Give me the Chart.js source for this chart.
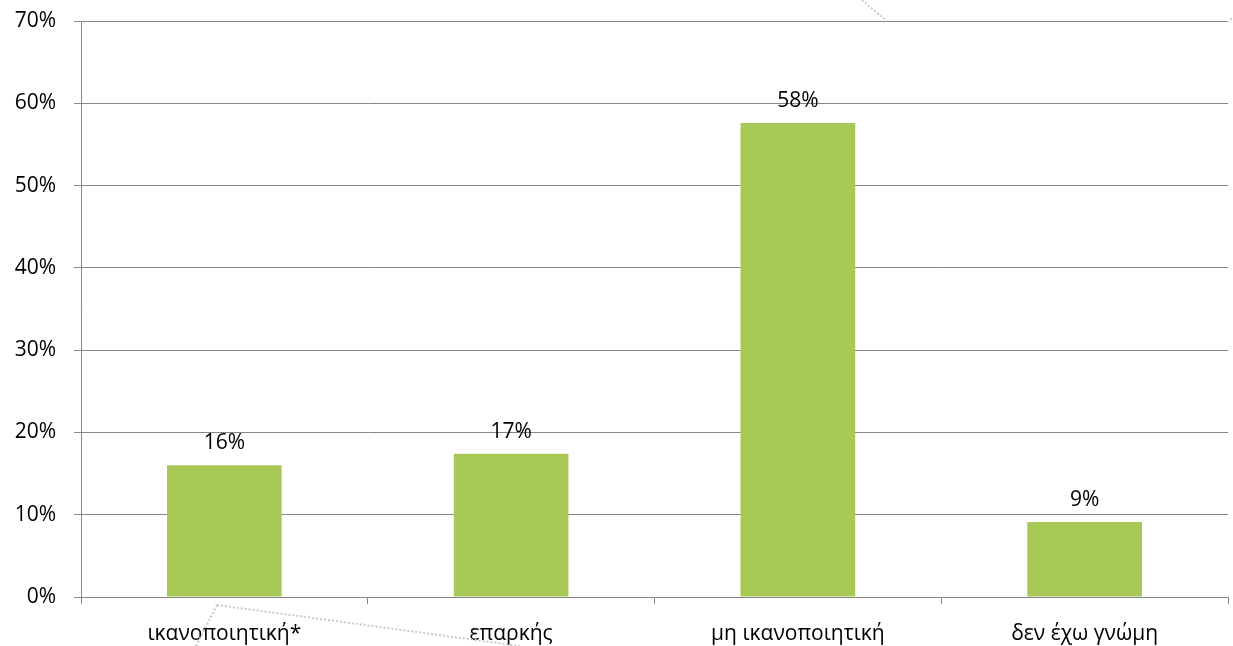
<!DOCTYPE html>
<html><head><meta charset="utf-8">
<script src="https://cdn.jsdelivr.net/npm/chart.js@4/dist/chart.umd.min.js"></script>
<style>html,body{margin:0;padding:0;background:#fff;}#wrap{width:1233px;height:646px;}</style>
</head><body><div id="wrap"><canvas id="c" width="1233" height="646"></canvas></div>
<script>
const categories = ["ικανοποιητική*", "επαρκής", "μη ικανοποιητική", "δεν έχω γνώμη"];
const values = [16.0, 17.4, 57.6, 9.1];
const valueLabels = ["16%", "17%", "58%", "9%"];
const yTicks = [0, 10, 20, 30, 40, 50, 60, 70];

const FONT = "'Open Sans', 'Noto Sans', sans-serif";
const GRID = '#868686';

const labelPlugin = {
  id: 'valueLabels',
  afterDatasetsDraw(chart) {
    const ctx = chart.ctx;
    const meta = chart.getDatasetMeta(0);
    ctx.save();
    ctx.font = '21px ' + FONT;
    ctx.fillStyle = '#000';
    ctx.textAlign = 'center';
    ctx.textBaseline = 'middle';
    meta.data.forEach((bar, i) => {
      ctx.fillText(valueLabels[i], bar.x, bar.y - 22);
    });
    ctx.restore();
  }
};

// faint dotted leader-line artifacts visible in the original image
const artifactPlugin = {
  id: 'artifacts',
  afterDraw(chart) {
    const ctx = chart.ctx;
    ctx.save();
    ctx.strokeStyle = '#c8c8c8';
    ctx.lineWidth = 2;
    ctx.setLineDash([2, 2]);
    const segs = [
      [[862, 0], [887, 21]],
      [[1227, 22], [1233, 17]],
      [[217, 605], [196, 646]],
      [[217, 605], [520, 646]]
    ];
    segs.forEach(s => {
      ctx.beginPath();
      ctx.moveTo(s[0][0], s[0][1]);
      ctx.lineTo(s[1][0], s[1][1]);
      ctx.stroke();
    });
    ctx.restore();
  }
};

new Chart(document.getElementById('c'), {
  type: 'bar',
  data: {
    labels: categories,
    datasets: [{
      data: values,
      backgroundColor: '#A9C957',
      borderWidth: 0,
      categoryPercentage: 1.0,
      barPercentage: 0.4
    }]
  },
  options: {
    responsive: false,
    animation: false,
    devicePixelRatio: 1,
    layout: { padding: { top: 21, right: 5, left: 0, bottom: 0 } },
    plugins: { legend: { display: false }, tooltip: { enabled: false } },
    scales: {
      x: {
        grid: { display: true, drawOnChartArea: false, offset: true, color: GRID, tickLength: 7, lineWidth: 1 },
        border: { display: true, color: GRID, width: 1 },
        ticks: { color: '#000', font: { family: FONT, size: 21 }, padding: 17, maxRotation: 0 },
        afterFit(s) { s.height = 49; s.paddingLeft = 0; s.paddingRight = 0; }
      },
      y: {
        min: 0, max: 70,
        afterBuildTicks(s) { s.ticks = yTicks.map(v => ({ value: v })); },
        grid: { color: GRID, tickLength: 7, lineWidth: 1 },
        border: { display: true, color: GRID, width: 1 },
        ticks: { color: '#000', font: { family: FONT, size: 21 }, padding: 18, callback: v => v + '%' },
        afterFit(s) { s.width = 81; s.paddingTop = 0; s.paddingBottom = 0; }
      }
    }
  },
  plugins: [labelPlugin, artifactPlugin]
});
</script></body></html>
